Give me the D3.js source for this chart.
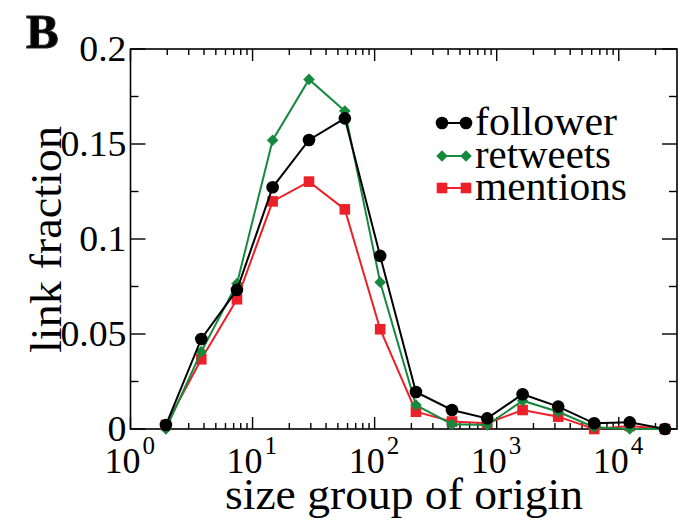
<!DOCTYPE html>
<html>
<head>
<meta charset="utf-8">
<script src="https://cdn.jsdelivr.net/npm/d3@7"></script>
<style>
  html, body { margin: 0; padding: 0; background: #fff; }
  svg { display: block; }
  text { font-family: "Liberation Serif", "Times New Roman", serif; fill: #000; }
</style>
</head>
<body>
<svg id="chart" width="679" height="521"></svg>
<script>
// Size group of origin (log-binned) and link fraction per network type
const sizeGroups = [1.95, 3.8, 7.45, 14.6, 29, 57, 111, 218, 430, 836, 1630, 3190, 6290, 12300, 23900];
const follower = [0.0021, 0.0474, 0.0732, 0.1272, 0.1521, 0.1635, 0.0911, 0.0195, 0.0100, 0.0056, 0.0183, 0.0118, 0.0030, 0.0035, 0.0000];
const retweets = [0.0000, 0.0407, 0.0765, 0.1520, 0.1840, 0.1674, 0.0772, 0.0126, 0.0025, 0.0021, 0.0149, 0.0091, 0.0009, 0.0000, 0.0000];
const mentions = [0.0021, 0.0367, 0.0683, 0.1198, 0.1302, 0.1156, 0.0525, 0.0091, 0.0039, 0.0030, 0.0100, 0.0065, 0.0000, 0.0016, 0.0000];
const seriesNames = ["follower", "retweets", "mentions"];
const yTicks = [0, 0.05, 0.1, 0.15, 0.2];
const yTickLabels = ["0", "0.05", "0.1", "0.15", "0.2"];
const xDecades = [0, 1, 2, 3, 4];

(function draw() {
  const series = [
    { name: seriesNames[0], values: follower, color: "#000000", shape: "circle", width: 142 },
    { name: seriesNames[1], values: retweets, color: "#16893f", shape: "diamond", width: 136 },
    { name: seriesNames[2], values: mentions, color: "#ec2028", shape: "square", width: 152 }
  ];

  const svg = d3.select("#chart");
  const plotL = 130.5, plotR = 677, plotT = 49, plotB = 429;

  const x = d3.scaleLog().domain([1, 30000]).range([plotL, plotR]);
  const y = d3.scaleLinear().domain([0, 0.2]).range([plotB, plotT]);

  // Frame
  svg.append("rect").attr("x", plotL).attr("y", plotT).attr("width", plotR - plotL).attr("height", plotB - plotT)
    .attr("fill", "none").attr("stroke", "#000").attr("stroke-width", 1.6);

  // Log ticks on bottom and top edges
  const minorX = [];
  for (let k = 0; k <= 4; k++) for (let m = 2; m <= 9; m++) { const v = m * Math.pow(10, k); if (v < 30000) minorX.push(v); }
  const majorX = xDecades.map(k => Math.pow(10, k));
  const tickG = svg.append("g").attr("stroke", "#000").attr("stroke-width", 1.4);
  majorX.forEach(v => {
    tickG.append("line").attr("x1", x(v)).attr("x2", x(v)).attr("y1", plotB).attr("y2", plotB - 12);
    tickG.append("line").attr("x1", x(v)).attr("x2", x(v)).attr("y1", plotT).attr("y2", plotT + 12);
  });
  minorX.forEach(v => {
    tickG.append("line").attr("x1", x(v)).attr("x2", x(v)).attr("y1", plotB).attr("y2", plotB - 6);
    tickG.append("line").attr("x1", x(v)).attr("x2", x(v)).attr("y1", plotT).attr("y2", plotT + 6);
  });

  // Linear ticks on left and right edges
  const minorY = [0.025, 0.075, 0.125, 0.175];
  yTicks.forEach(v => {
    tickG.append("line").attr("x1", plotL).attr("x2", plotL + 15).attr("y1", y(v)).attr("y2", y(v));
    tickG.append("line").attr("x1", plotR).attr("x2", plotR - 15).attr("y1", y(v)).attr("y2", y(v));
  });
  minorY.forEach(v => {
    tickG.append("line").attr("x1", plotL).attr("x2", plotL + 8).attr("y1", y(v)).attr("y2", y(v));
    tickG.append("line").attr("x1", plotR).attr("x2", plotR - 8).attr("y1", y(v)).attr("y2", y(v));
  });

  // Y tick labels, slightly widened
  yTicks.forEach((v, i) => {
    svg.append("text").attr("transform", `translate(${plotL - 4},${y(v)}) scale(1.08,1)`)
      .attr("dy", "0.34em").attr("text-anchor", "end").attr("font-size", 35).text(yTickLabels[i]);
  });

  // X tick labels as powers of ten: base and exponent
  xDecades.forEach(k => {
    const tx = x(Math.pow(10, k));
    svg.append("text").attr("x", tx + 10).attr("y", 473)
      .attr("text-anchor", "end").attr("font-size", 36).text("10");
    svg.append("text").attr("x", tx + 12).attr("y", 454)
      .attr("text-anchor", "start").attr("font-size", 25).text(String(k));
  });

  // Axis titles
  svg.append("text").attr("x", 225).attr("y", 509).attr("font-size", 44)
    .attr("textLength", 358).attr("lengthAdjust", "spacingAndGlyphs").text("size group of origin");
  svg.append("text").attr("transform", `translate(61,353) rotate(-90)`)
    .attr("font-size", 44).attr("textLength", 227).attr("lengthAdjust", "spacingAndGlyphs").text("link fraction");

  // Panel letter
  svg.append("text").attr("x", 26).attr("y", 48).attr("font-family", "Liberation Sans, Arial, sans-serif")
    .attr("font-weight", "bold").attr("font-size", 49).attr("fill", "#231f20")
    .attr("stroke", "#231f20").attr("stroke-width", 1.2).text("B");

  // Marker drawing helper
  function marker(g, shape, cx, cy, color) {
    if (shape === "circle") {
      g.append("circle").attr("cx", cx).attr("cy", cy).attr("r", 6.3).attr("fill", color);
    } else if (shape === "diamond") {
      const s = 5.8;
      g.append("path").attr("d", `M${cx},${cy - s}L${cx + s},${cy}L${cx},${cy + s}L${cx - s},${cy}Z`).attr("fill", color);
    } else {
      const s = 5.3;
      g.append("rect").attr("x", cx - s).attr("y", cy - s).attr("width", 2 * s).attr("height", 2 * s).attr("fill", color);
    }
  }

  // Series, mentions first so follower sits on top
  const line = d3.line().x((d, i) => x(sizeGroups[i])).y(d => y(d));
  [series[2], series[1], series[0]].forEach(s => {
    const g = svg.append("g");
    g.append("path").datum(s.values).attr("d", line).attr("fill", "none")
      .attr("stroke", s.color).attr("stroke-width", 2);
    s.values.forEach((v, i) => marker(g, s.shape, x(sizeGroups[i]), y(v), s.color));
  });

  // Legend
  const legendRows = [123, 156, 188];
  series.forEach((s, i) => {
    const g = svg.append("g");
    const ly = legendRows[i];
    g.append("line").attr("x1", 442).attr("x2", 466).attr("y1", ly).attr("y2", ly)
      .attr("stroke", s.color).attr("stroke-width", 2);
    marker(g, s.shape, 442, ly, s.color);
    marker(g, s.shape, 466, ly, s.color);
    g.append("text").attr("x", 475).attr("y", ly + 12).attr("font-size", 39)
      .attr("textLength", s.width).attr("lengthAdjust", "spacingAndGlyphs").text(s.name);
  });
})();
</script>
</body>
</html>
